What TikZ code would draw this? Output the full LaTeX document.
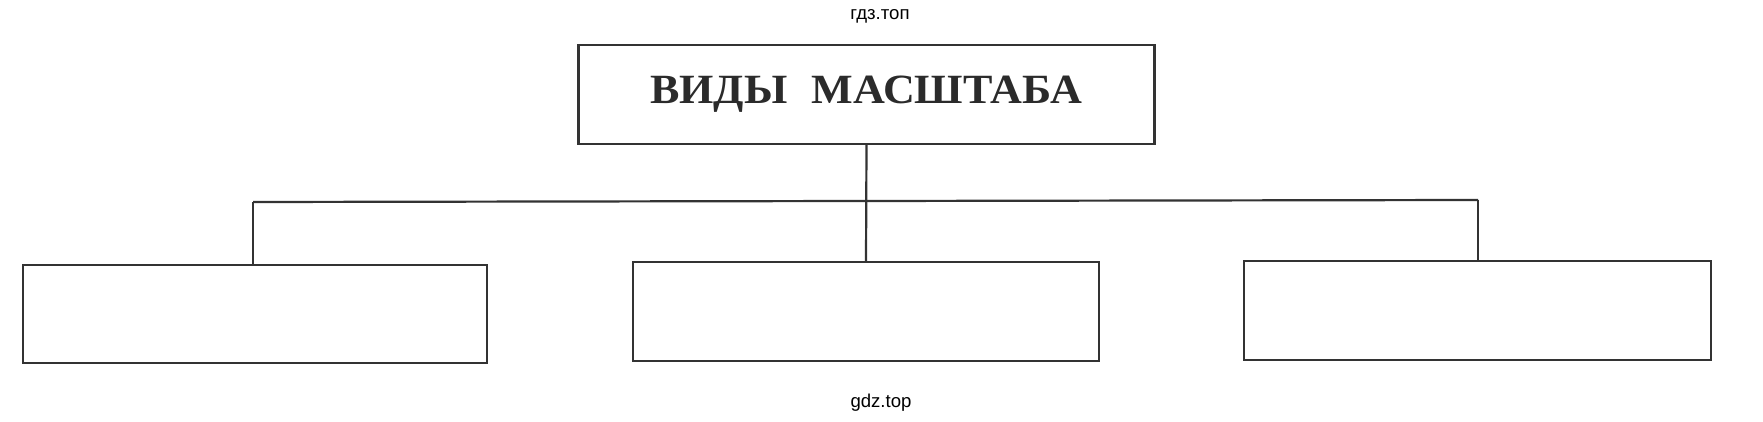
\documentclass[tikz,border=0pt]{standalone}
\usepackage{graphicx}
\usepackage{fontspec}
\setmainfont{Liberation Serif}
\newfontfamily\wmfont{Liberation Sans}
\definecolor{inkc}{HTML}{333333}
\definecolor{textc}{HTML}{2B2B2B}
\begin{document}
\begin{tikzpicture}[x=0.5pt,y=-0.5pt,
  boxc/.style={draw=inkc,line width=1.1pt,rectangle,inner sep=0pt,fill=none},
  link/.style={draw=inkc,line width=1.1pt},
  wmark/.style={font=\wmfont\fontsize{9.3}{11}\selectfont,text=black,inner sep=0pt}]
\useasboundingbox[fill=white] (0,0) rectangle (1763,422);
\node[boxc,minimum width=288pt,minimum height=49.5pt] (title) at (866.5,94.5)
  {\color{textc}\scalebox{1.06}[1.0]{\fontsize{20.8}{24}\selectfont\bfseries ВИДЫ\hspace{0.3em} МАСШТАБА}};
\node[boxc,minimum width=232pt,minimum height=49pt] (lbox) at (255,314) {};
\node[boxc,minimum width=233pt,minimum height=49.5pt] (mbox) at (866,311.5) {};
\node[boxc,minimum width=233.5pt,minimum height=49.5pt] (rbox) at (1477.5,310.5) {};
\coordinate (jl) at (253,202);
\coordinate (jm) at (866,201);
\coordinate (jr) at (1478,200);
\draw[link] (jl) -- (jm) -- (jr);
\draw[link] (title.south) -- (mbox.north);
\draw[link] (jl) -- (jl |- lbox.north);
\draw[link] (jr) -- (jr |- rbox.north);
\node[wmark,anchor=base] (wtop) at (880,20) {гдз.топ};
\node[wmark,anchor=base] (wbot) at (881,408) {gdz.top};
\end{tikzpicture}
\end{document}
